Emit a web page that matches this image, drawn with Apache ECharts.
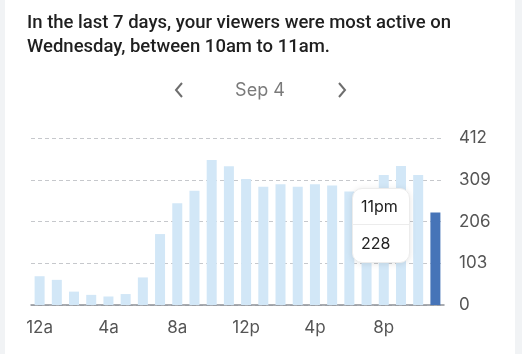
<!DOCTYPE html>
<html>
<head>
<meta charset="utf-8">
<script src="https://cdn.jsdelivr.net/npm/echarts@6/dist/echarts.min.js"></script>
<style>
  html, body { margin: 0; padding: 0; background: #f1f3f5; }
  #chart { position: absolute; left: 5px; top: 0; width: 510px; height: 354px; background: #fff; }
</style>
</head>
<body>
<div id="chart"></div>
<script>
// hourly viewers, Sep 4
const hours = ['12am', '1am', '2am', '3am', '4am', '5am', '6am', '7am', '8am', '9am', '10am', '11am',
  '12pm', '1pm', '2pm', '3pm', '4pm', '5pm', '6pm', '7pm', '8pm', '9pm', '10pm', '11pm']
const viewers = [71, 62, 33, 25, 21, 27, 68, 175, 251, 282, 358, 342,
  311, 292, 298, 292, 298, 295, 280, 270, 321, 343, 321, 228]
const tickLabels = ['12a', '4a', '8a', '12p', '4p', '8p']
const yTicks = [0, 103, 206, 309, 412]
const headline = 'In the last 7 days, your viewers were most active on\nWednesday, between 10am to 11am.'
const dayLabel = 'Sep 4'
const selectedIndex = 23

const font = 'Inter, "Noto Sans", sans-serif'
const chart = echarts.init(document.getElementById('chart'))

chart.setOption({
  animation: false,
  title: [
    {
      text: headline,
      left: 22,
      top: 11,
      padding: 0,
      textStyle: { fontFamily: 'Roboto, sans-serif', fontSize: 18.5, fontWeight: 500, color: '#1f1f1f', lineHeight: 24 }
    },
    {
      text: dayLabel,
      left: 'center',
      top: 77,
      textStyle: { fontFamily: font, fontSize: 18, fontWeight: 400, color: '#7a7a7a' }
    }
  ],
  graphic: [
    { type: 'polyline', shape: { points: [[177, 83], [171, 90], [177, 97]] }, style: { stroke: '#6e6e6e', lineWidth: 2, fill: null } },
    { type: 'polyline', shape: { points: [[334, 83], [340, 90], [334, 97]] }, style: { stroke: '#6e6e6e', lineWidth: 2, fill: null } }
  ],
  grid: { left: 26, top: 138, width: 413, height: 167 },
  tooltip: {
    trigger: 'item',
    triggerOn: 'none',
    alwaysShowContent: true,
    transitionDuration: 0,
    padding: 0,
    borderWidth: 1,
    borderColor: '#ececec',
    backgroundColor: '#fff',
    position: [347, 188],
    extraCssText: 'border-radius:10px;box-shadow:0 1px 6px rgba(0,0,0,0.10);width:56px;',
    formatter: (p) =>
      '<div style="font-family:Inter,sans-serif;font-size:16px;color:#222;">' +
      '<div style="height:35px;line-height:35px;padding-left:8px;">' + p.name + '</div>' +
      '<div style="height:37px;line-height:37px;padding-left:8px;border-top:1px solid #ececec;">' + p.value + '</div>' +
      '</div>'
  },
  xAxis: {
    type: 'category',
    data: hours,
    axisLine: { lineStyle: { color: '#8d9198', width: 1.5 } },
    axisTick: { interval: 3, alignWithLabel: true, length: 4, lineStyle: { color: '#8d9198' } },
    axisLabel: {
      interval: 3,
      margin: 14,
      fontFamily: font,
      fontSize: 17,
      color: '#555',
      formatter: (v, i) => tickLabels[i / 4]
    }
  },
  yAxis: {
    type: 'value',
    position: 'right',
    min: yTicks[0],
    max: yTicks[yTicks.length - 1],
    interval: yTicks[1] - yTicks[0],
    axisLine: { show: false },
    axisTick: { show: false },
    axisLabel: { margin: 15, fontFamily: font, fontSize: 17, color: '#555' },
    splitLine: { lineStyle: { color: '#c6c8cc', type: [4, 3] } }
  },
  series: [{
    type: 'bar',
    barWidth: 10,
    data: viewers.map((v, i) => ({
      value: v,
      itemStyle: { color: i === selectedIndex ? '#4674b8' : '#d2e7f7' }
    }))
  }]
})

chart.dispatchAction({ type: 'showTip', seriesIndex: 0, dataIndex: selectedIndex })
</script>
</body>
</html>
